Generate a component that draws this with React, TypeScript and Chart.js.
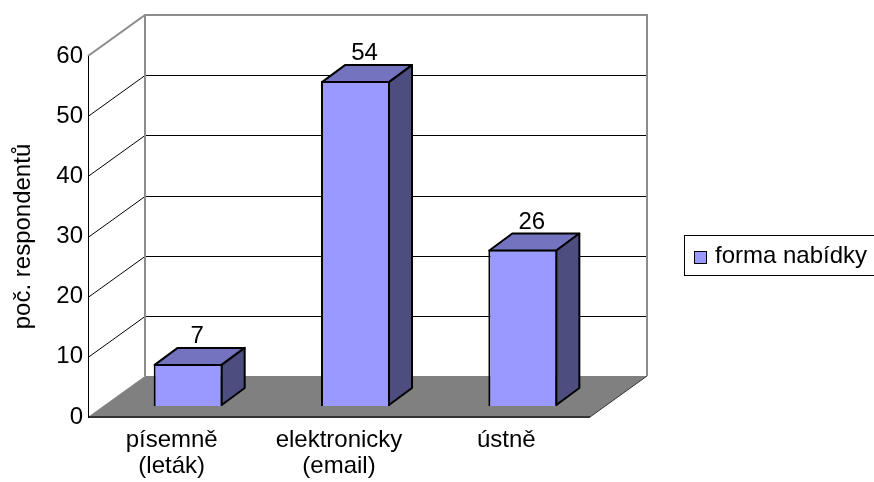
import React, { useEffect, useRef } from 'react';
import { Chart, registerables } from 'chart.js';

Chart.register(...registerables);

const categories: string[][] = [['písemně', '(leták)'], ['elektronicky', '(email)'], ['ústně']];
const seriesName = 'forma nabídky';
const values: number[] = [7, 54, 26];
const yTicks: number[] = [0, 10, 20, 30, 40, 50, 60];
const yTitle = 'poč. respondentů';

const FONT = '"Liberation Sans", Arial, sans-serif';
const FONT_SIZE = 24;
const FRONT = '#9999ff';
const TOP = '#7373bf';
const SIDE = '#4d4d80';
const FLOOR = '#808080';
const WALL_BORDER = '#8c8c8c';
const WALL_DX = 57;
const WALL_DY = -41;
const BAR_DX = 16.5;
const BAR_DY = -11;
const DEPTH_DX = 23;
const DEPTH_DY = -17;

const threeD = {
  id: 'threeD',
  beforeDraw(chart: any) {
    const { ctx, chartArea: a, scales } = chart;
    const y = scales.y;
    const L = a.left;
    const R = a.right;
    const yMin = yTicks[0];
    const yMax = yTicks[yTicks.length - 1];
    const y0 = y.getPixelForValue(yMin);
    const yT = y.getPixelForValue(yMax);
    ctx.save();
    // floor
    ctx.beginPath();
    ctx.moveTo(L, y0);
    ctx.lineTo(R, y0);
    ctx.lineTo(R + WALL_DX, y0 + WALL_DY);
    ctx.lineTo(L + WALL_DX, y0 + WALL_DY);
    ctx.closePath();
    ctx.fillStyle = FLOOR;
    ctx.fill();
    ctx.strokeStyle = '#333333';
    ctx.lineWidth = 1;
    ctx.beginPath();
    ctx.moveTo(R, y0);
    ctx.lineTo(R + WALL_DX, y0 + WALL_DY);
    ctx.stroke();
    ctx.lineWidth = 2;
    ctx.beginPath();
    ctx.moveTo(L, y0);
    ctx.lineTo(R, y0);
    ctx.stroke();
    // gridlines
    ctx.strokeStyle = '#000000';
    ctx.lineWidth = 1;
    for (const v of yTicks) {
      if (v === yMin || v === yMax) continue;
      const fy = Math.round(y.getPixelForValue(v)) + 0.5;
      const by = fy + WALL_DY;
      ctx.beginPath();
      ctx.moveTo(L, fy);
      ctx.lineTo(L + WALL_DX, by);
      ctx.lineTo(R + WALL_DX, by);
      ctx.stroke();
    }
    // wall borders
    ctx.strokeStyle = WALL_BORDER;
    ctx.lineWidth = 2;
    ctx.beginPath();
    ctx.moveTo(L, yT);
    ctx.lineTo(L + WALL_DX, yT + WALL_DY);
    ctx.lineTo(R + WALL_DX, yT + WALL_DY);
    ctx.lineTo(R + WALL_DX, y0 + WALL_DY);
    ctx.moveTo(L + WALL_DX, yT + WALL_DY);
    ctx.lineTo(L + WALL_DX, y0 + WALL_DY);
    ctx.stroke();
    ctx.restore();
  },
  beforeDatasetsDraw(chart: any) {
    chart.ctx.save();
    chart.ctx.translate(BAR_DX, BAR_DY);
  },
  afterDatasetsDraw(chart: any) {
    const { ctx } = chart;
    const meta = chart.getDatasetMeta(0);
    ctx.lineJoin = 'round';
    meta.data.forEach((bar: any, i: number) => {
      const p = bar.getProps(['x', 'y', 'base', 'width'], true);
      const l = p.x - p.width / 2;
      const r = p.x + p.width / 2;
      const t = p.y;
      const b = p.base;
      ctx.strokeStyle = '#000000';
      ctx.lineWidth = 2;
      // top face
      ctx.beginPath();
      ctx.moveTo(l + 1, t + 1);
      ctx.lineTo(l + 1 + DEPTH_DX, t + 1 + DEPTH_DY);
      ctx.lineTo(r - 1 + DEPTH_DX, t + 1 + DEPTH_DY);
      ctx.lineTo(r - 1, t + 1);
      ctx.closePath();
      ctx.fillStyle = TOP;
      ctx.fill();
      ctx.stroke();
      // side face
      ctx.beginPath();
      ctx.moveTo(r - 1, t + 1);
      ctx.lineTo(r - 1 + DEPTH_DX, t + 1 + DEPTH_DY);
      ctx.lineTo(r - 1 + DEPTH_DX, b - 1 + DEPTH_DY);
      ctx.lineTo(r - 1, b - 1);
      ctx.closePath();
      ctx.fillStyle = SIDE;
      ctx.fill();
      ctx.stroke();
      // value label
      ctx.fillStyle = '#000000';
      ctx.font = `${FONT_SIZE}px ${FONT}`;
      ctx.textAlign = 'center';
      ctx.textBaseline = 'alphabetic';
      ctx.fillText(String(values[i]), p.x + 9, t + DEPTH_DY - 4);
    });
    ctx.restore();
  },
  afterDraw(chart: any) {
    const { ctx } = chart;
    ctx.save();
    ctx.strokeStyle = '#000000';
    ctx.lineWidth = 1;
    ctx.strokeRect(684.5, 235.5, 200, 40);
    ctx.fillStyle = FRONT;
    ctx.fillRect(694, 251, 13, 13);
    ctx.strokeRect(694.5, 251.5, 12, 12);
    ctx.fillStyle = '#000000';
    ctx.font = `${FONT_SIZE}px ${FONT}`;
    ctx.textAlign = 'left';
    ctx.textBaseline = 'alphabetic';
    ctx.fillText(seriesName, 715, 263);
    ctx.restore();
  },
};

export default function App() {
  const ref = useRef<HTMLCanvasElement | null>(null);
  useEffect(() => {
    if (!ref.current) return;
    const chart = new Chart(ref.current, {
      type: 'bar',
      data: {
        labels: categories,
        datasets: [
          {
            label: seriesName,
            data: values,
            backgroundColor: FRONT,
            borderColor: '#000000',
            borderWidth: 2,
            barPercentage: 0.4125,
            categoryPercentage: 1,
          },
        ],
      },
      options: {
        responsive: false,
        animation: false,
        devicePixelRatio: 1,
        layout: { padding: { left: 0, top: 56, right: 284, bottom: 0 } },
        plugins: { legend: { display: false }, tooltip: { enabled: false } },
        scales: {
          x: {
            grid: { display: false, drawTicks: false },
            border: { display: false },
            ticks: {
              color: '#000000',
              padding: 10,
              maxRotation: 0,
              autoSkip: false,
              font: { family: FONT, size: FONT_SIZE, lineHeight: 26 / FONT_SIZE },
            },
            afterFit: (s: any) => {
              s.height = 65;
            },
          },
          y: {
            min: yTicks[0],
            max: yTicks[yTicks.length - 1],
            afterBuildTicks: (s: any) => {
              s.ticks = yTicks.map((v) => ({ value: v }));
            },
            grid: { display: false, drawTicks: false },
            border: { display: true, color: '#000000', width: 1 },
            ticks: {
              color: '#000000',
              padding: 5,
              font: { family: FONT, size: FONT_SIZE },
            },
            title: {
              display: true,
              text: yTitle,
              color: '#000000',
              padding: { top: 9, bottom: 0 },
              font: { family: FONT, size: FONT_SIZE },
            },
            afterFit: (s: any) => {
              s.width = 88;
            },
          },
        },
      },
      plugins: [threeD],
    });
    return () => chart.destroy();
  }, []);
  return (
    <div style={{ position: 'absolute', left: 0, top: 0, width: 874, height: 482 }}>
      <canvas ref={ref} width={874} height={482} style={{ width: 874, height: 482 }} />
    </div>
  );
}
